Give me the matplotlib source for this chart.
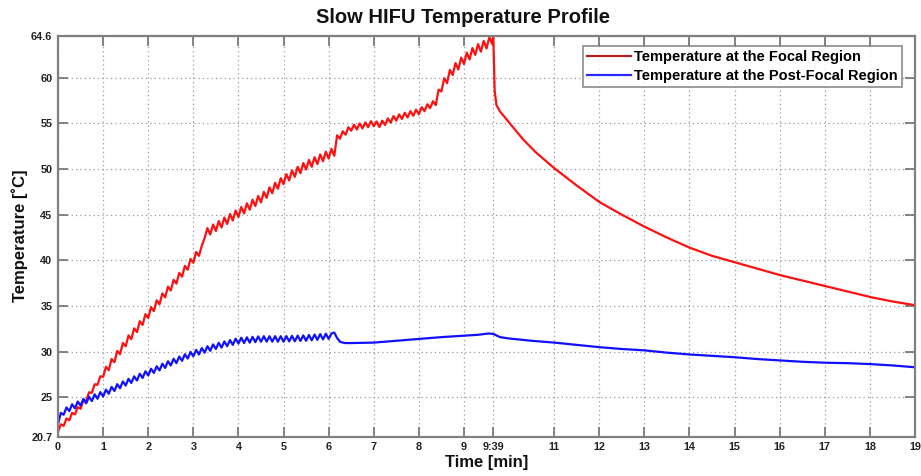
import matplotlib
matplotlib.use("Agg")
import matplotlib.pyplot as plt

# ---------------- data ----------------
# Heating phase is sampled every 1/16 min (3.75 s); values alternate with the pulse ripple.
SAMPLE_MIN = 0.0625

red_heat = [
    21.25, 22.06, 21.88, 22.69, 22.50, 23.31, 23.13, 23.94,
    23.75, 24.69, 24.63, 25.56, 25.50, 26.44, 26.38, 27.31,
    27.25, 28.34, 27.98, 29.21, 28.85, 30.09, 29.73, 30.96,
    30.60, 31.79, 31.38, 32.56, 32.15, 33.34, 32.93, 34.11,
    33.70, 34.88, 34.45, 35.63, 35.20, 36.38, 35.95, 37.13,
    36.70, 37.88, 37.46, 38.64, 38.22, 39.40, 38.98, 40.16,
    39.74, 40.92, 40.50, 41.60, 42.45, 43.54, 42.83, 43.93,
    43.22, 44.31, 43.60, 44.69, 43.98, 45.08, 44.37, 45.46,
    44.75, 45.85, 45.15, 46.25, 45.55, 46.65, 45.95, 47.05,
    46.35, 47.50, 46.85, 48.00, 47.35, 48.50, 47.85, 49.00,
    48.35, 49.45, 48.75, 49.85, 49.15, 50.25, 49.55, 50.65,
    49.95, 51.00, 50.25, 51.30, 50.55, 51.60, 50.85, 51.90,
    51.15, 52.20, 51.45, 53.70, 53.32, 54.14, 53.76, 54.58,
    54.20, 54.86, 54.33, 54.99, 54.45, 55.11, 54.58, 55.24,
    54.70, 55.20, 54.60, 55.30, 54.83, 55.55, 55.08, 55.80,
    55.30, 55.99, 55.48, 56.16, 55.65, 56.34, 55.83, 56.51,
    56.00, 56.77, 56.33, 57.10, 56.67, 57.43, 57.00, 58.70,
    58.50, 59.95, 59.40, 60.85, 60.30, 61.60, 60.90, 62.20,
    61.50, 62.75, 62.00, 63.25, 62.50, 63.68, 62.85, 64.03,
    63.20, 64.45, 63.70,
]
red_tail_t = [9.65, 9.68, 9.72, 9.80, 9.95, 10.1, 10.32, 10.6, 11.0, 11.5,
              12.0, 12.5, 13.0, 13.5, 14.0, 14.5, 15.0, 15.5, 16.0, 16.5,
              17.0, 17.5, 18.0, 18.5, 19.0]
red_tail = [64.6, 58.6, 57.0, 56.3, 55.4, 54.5, 53.2, 51.8, 50.1, 48.2,
            46.4, 45.0, 43.7, 42.5, 41.4, 40.5, 39.8, 39.1, 38.4, 37.8,
            37.2, 36.6, 36.0, 35.5, 35.1]

blue_heat = [
    22.10, 23.30, 23.10, 23.90, 23.50, 24.25, 23.80, 24.55,
    24.10, 24.83, 24.35, 25.08, 24.60, 25.33, 24.85, 25.58,
    25.10, 25.85, 25.40, 26.15, 25.70, 26.45, 26.00, 26.75,
    26.30, 27.04, 26.58, 27.31, 26.85, 27.59, 27.13, 27.86,
    27.40, 28.14, 27.68, 28.41, 27.95, 28.69, 28.23, 28.96,
    28.50, 29.23, 28.75, 29.48, 29.00, 29.73, 29.25, 29.98,
    29.50, 30.20, 29.70, 30.40, 29.90, 30.60, 30.10, 30.80,
    30.30, 30.98, 30.45, 31.13, 30.60, 31.28, 30.75, 31.43,
    30.90, 31.53, 30.95, 31.58, 31.00, 31.63, 31.05, 31.68,
    31.10, 31.70, 31.10, 31.70, 31.10, 31.70, 31.10, 31.70,
    31.10, 31.71, 31.13, 31.74, 31.15, 31.76, 31.18, 31.79,
    31.20, 31.83, 31.25, 31.88, 31.30, 31.93, 31.35, 31.98,
    31.40, 32.00, 32.10, 31.50, 31.10, 31.00, 30.95,
]
blue_tail_t = [6.5, 7.0, 7.5, 8.0, 8.5, 9.0, 9.3, 9.55, 9.65, 9.8, 10.0,
               10.5, 11.0, 11.5, 12.0, 12.5, 13.0, 13.5, 14.0, 14.5, 15.0,
               15.5, 16.0, 16.5, 17.0, 17.5, 18.0, 18.5, 19.0]
blue_tail = [30.95, 31.0, 31.2, 31.4, 31.6, 31.75, 31.85, 32.0, 31.95, 31.6, 31.45,
             31.2, 31.0, 30.75, 30.5, 30.3, 30.15, 29.9, 29.7, 29.55, 29.4,
             29.2, 29.05, 28.9, 28.8, 28.75, 28.65, 28.5, 28.3]

x_ticks = [0, 1, 2, 3, 4, 5, 6, 7, 8, 9, 9.65, 11, 12, 13, 14, 15, 16, 17, 18, 19]
x_tick_labels = ["0", "1", "2", "3", "4", "5", "6", "7", "8", "9", "9:39",
                 "11", "12", "13", "14", "15", "16", "17", "18", "19"]
y_ticks = [20.7, 25, 30, 35, 40, 45, 50, 55, 60, 64.6]
y_tick_labels = ["20.7", "25", "30", "35", "40", "45", "50", "55", "60", "64.6"]

# ---------------- plotting ----------------
plt.rcParams["font.family"] = ["Liberation Sans", "DejaVu Sans"]

red_t = [i * SAMPLE_MIN for i in range(len(red_heat))] + red_tail_t
red_v = red_heat + red_tail
blue_t = [i * SAMPLE_MIN for i in range(len(blue_heat))] + blue_tail_t
blue_v = blue_heat + blue_tail

fig = plt.figure(figsize=(9.21, 4.76), dpi=100)
ax = fig.add_axes([0.063, 0.0826, 0.9305, 0.8424])

ax.plot(red_t, red_v, color="#ff1010", lw=1.6, label="Temperature at the Focal Region")
ax.plot(blue_t, blue_v, color="#1010ff", lw=1.6, label="Temperature at the Post-Focal Region")

ax.set_xlim(0, 19)
ax.set_ylim(20.7, 64.6)
ax.set_xticks(x_ticks)
ax.set_xticklabels(x_tick_labels)
ax.set_yticks(y_ticks)
ax.set_yticklabels(y_tick_labels)

ax.grid(True, linestyle=(0, (1, 2.5)), color="#9a9a9a", linewidth=0.9)
ax.tick_params(direction="in", length=7, width=1.2, color="#707070",
               top=True, right=True, labelsize=7.8, pad=4, labelcolor="#222222")
for lab in ax.get_xticklabels() + ax.get_yticklabels():
    lab.set_fontweight("bold")
for sp in ax.spines.values():
    sp.set_color("#808080")
    sp.set_linewidth(1.6)

ax.set_title("Slow HIFU Temperature Profile", fontsize=14.5, fontweight="bold",
             x=0.4726, pad=9.5, color="#111111")
ax.set_xlabel("Time [min]", fontsize=12, fontweight="bold", labelpad=2, color="#111111")
ax.set_ylabel("Temperature [\u02daC]", fontsize=12, fontweight="bold", labelpad=2, color="#111111")

leg = ax.legend(loc="upper right", bbox_to_anchor=(0.9895, 0.985),
                prop={"weight": "bold", "size": 10.5}, frameon=True, fancybox=False,
                handlelength=3.0, handletextpad=0.2, borderpad=0.3,
                labelspacing=0.3, borderaxespad=0.3)
leg.get_frame().set_edgecolor("#707070")
leg.get_frame().set_linewidth(1.2)
leg.get_lines()[0].set_color("#b02020")
leg.get_lines()[1].set_color("#2a2aff")

fig.savefig("out.png", dpi=100)
